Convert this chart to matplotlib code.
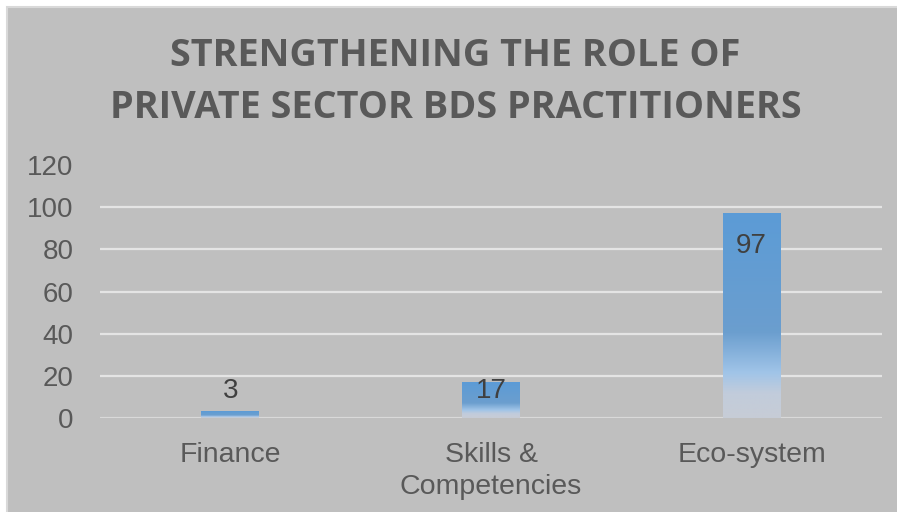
import matplotlib.pyplot as plt
import numpy as np
from matplotlib.colors import LinearSegmentedColormap
from matplotlib.patches import Rectangle

# data
categories = ['Finance', 'Skills &\nCompetencies', 'Eco-system']
values = [3, 17, 97]
title = 'STRENGTHENING THE ROLE OF\nPRIVATE SECTOR BDS PRACTITIONERS'

BG = '#BFBFBF'
TXT = '#595959'

fig = plt.figure(figsize=(8.97, 5.12), dpi=100)
fig.patch.set_facecolor('white')
# grey chart area with a thin light border
fig.patches.append(Rectangle((7 / 897, -0.1), 1.0, 1 - 7 / 512 + 0.1,
                             transform=fig.transFigure, facecolor=BG,
                             edgecolor='#D9D9D9', linewidth=1.5, zorder=-5))

ax = fig.add_axes([100 / 897, 1 - 418 / 512, 782 / 897, 253 / 512])
ax.set_zorder(2)
ax.set_facecolor('none')
for s in ax.spines.values():
    s.set_visible(False)

x = np.arange(len(categories))
w = 0.222

# gradient fill, blue on top fading to pale grey at the base
grad = LinearSegmentedColormap.from_list('bargrad', [
    (0.00, (0.78, 0.80, 0.84)),
    (0.12, (0.76, 0.80, 0.86)),
    (0.22, (0.63, 0.77, 0.91)),
    (0.42, (0.42, 0.62, 0.81)),
    (1.00, (0.36, 0.61, 0.84)),
])
g = np.linspace(0, 1, 256).reshape(-1, 1)
for xi, v in zip(x, values):
    ax.imshow(g, extent=[xi - w / 2, xi + w / 2, 0, v], origin='lower',
              aspect='auto', cmap=grad, zorder=3, interpolation='bilinear')
    ly = max(v - 15.5, 12.8)
    ax.text(xi, ly, str(v), ha='center', va='center', fontsize=20,
            color='#404040', family='Liberation Sans', zorder=4)

ax.set_xlim(-0.5, 2.5)
ax.set_ylim(0, 120)
ax.set_yticks(range(0, 121, 20))
for yv in range(0, 101, 20):
    ax.axhline(yv, color='#E4E4E4' if yv else '#D9D9D9', lw=1.6, zorder=1)

ax.set_xticks(x)
ax.set_xticklabels(categories, linespacing=1.3)
ax.tick_params(axis='both', length=0, labelsize=20, labelcolor=TXT)
ax.tick_params(axis='x', labelsize=20.5, pad=17)
ax.tick_params(axis='y', pad=19)
for lab in ax.get_xticklabels() + ax.get_yticklabels():
    lab.set_family('Liberation Sans')

fig.text(0.508, 1 - 82 / 512, title, ha='center', va='center',
         fontsize=27.3, fontweight='bold', color=TXT, family='Open Sans',
         linespacing=1.48)

fig.savefig('out.png', dpi=100, facecolor='white')
